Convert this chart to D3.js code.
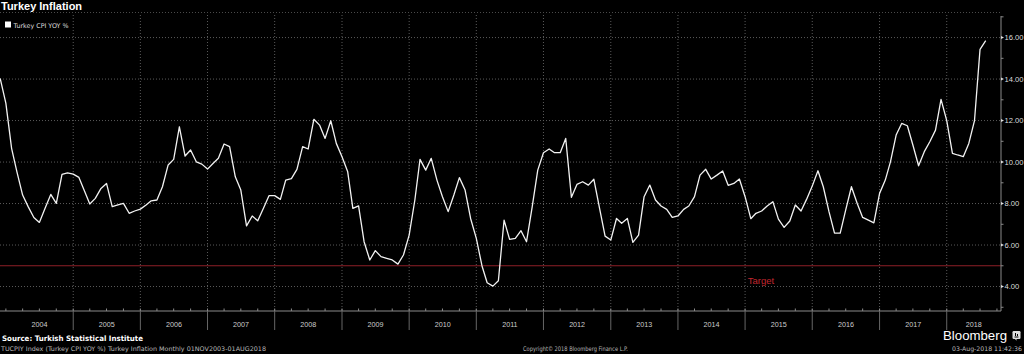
<!DOCTYPE html>
<html>
<head>
<meta charset="utf-8">
<script src="https://cdn.jsdelivr.net/npm/d3@7"></script>
<style>
  html, body { margin: 0; padding: 0; background: #000; }
  svg { display: block; }
</style>
</head>
<body>
<div id="chart"></div>
<script>
// monthly CPI YoY %, first value = Nov 2003 (each point drawn at the end of its month)
const firstMonth = [2003, 10];
const cpiYoy = [
  14.03, 12.83, 10.66, 9.53, 8.41, 7.85, 7.33, 7.09, 7.77, 8.44, 8.01, 9.41,
  9.48, 9.42, 9.26, 8.65, 7.98, 8.25, 8.73, 8.97, 7.85, 7.93, 8.01, 7.53,
  7.64, 7.73, 7.93, 8.13, 8.17, 8.81, 9.86, 10.13, 11.70, 10.29, 10.58, 10.01,
  9.90, 9.66, 9.94, 10.18, 10.87, 10.74, 9.29, 8.65, 6.92, 7.40, 7.17, 7.77,
  8.38, 8.38, 8.20, 9.13, 9.20, 9.65, 10.74, 10.63, 12.06, 11.78, 11.14, 11.99,
  10.90, 10.26, 9.53, 7.77, 7.89, 6.16, 5.28, 5.73, 5.44, 5.36, 5.28, 5.08,
  5.52, 6.48, 8.17, 10.13, 9.61, 10.18, 9.13, 8.33, 7.61, 8.41, 9.25, 8.65,
  7.28, 6.32, 4.99, 4.18, 4.02, 4.28, 7.20, 6.27, 6.32, 6.69, 6.16, 7.85,
  9.61, 10.45, 10.63, 10.45, 10.45, 11.14, 8.30, 8.92, 9.05, 8.89, 9.17, 7.77,
  6.43, 6.24, 7.28, 7.05, 7.28, 6.13, 6.48, 8.33, 8.89, 8.17, 7.88, 7.72,
  7.33, 7.40, 7.72, 7.88, 8.33, 9.37, 9.65, 9.18, 9.37, 9.57, 8.88, 8.97,
  9.18, 8.33, 7.27, 7.53, 7.64, 7.88, 8.09, 7.25, 6.85, 7.16, 7.93, 7.64,
  8.20, 8.84, 9.58, 8.81, 7.61, 6.57, 6.57, 7.69, 8.81, 8.01, 7.33, 7.20,
  7.07, 8.49, 9.13, 10.01, 11.30, 11.86, 11.75, 10.82, 9.82, 10.50, 10.98, 11.54,
  13.02, 12.00, 10.42, 10.34, 10.26, 10.90, 12.00, 15.43, 15.85
];
const targetValue = 5;
const yTicks = [4, 6, 8, 10, 12, 14, 16];
const yMinorTicks = [3, 5, 7, 9, 11, 13, 15, 17];
const years = d3.range(2004, 2019);

const width = 1024, height = 354;
const plot = { left: 0, right: 1001, top: 16, bottom: 311 };

const data = cpiYoy.map((v, i) => ({
  date: new Date(firstMonth[0], firstMonth[1] + i + 1, 1),
  value: v
}));

const x = d3.scaleTime()
  .domain([new Date(2003, 10, 30), new Date(2018, 9, 23)])
  .range([plot.left, plot.right]);
const y = d3.scaleLinear().domain([2.82, 17.04]).range([plot.bottom, plot.top]);

const svg = d3.select("#chart").append("svg")
  .attr("width", width)
  .attr("height", height)
  .style("background", "#000");

// title + legend
svg.append("text")
  .attr("x", 1).attr("y", 10)
  .attr("font-family", "Liberation Sans, Arial, sans-serif")
  .attr("font-weight", "bold")
  .attr("font-size", 11)
  .attr("fill", "#fff")
  .text("Turkey Inflation");

svg.append("line")
  .attr("x1", 0).attr("x2", plot.right)
  .attr("y1", 12.5).attr("y2", 12.5)
  .attr("stroke", "#4a4a4a")
  .attr("stroke-dasharray", "1,2");

svg.append("rect")
  .attr("x", 5).attr("y", 21.5).attr("width", 6).attr("height", 6)
  .attr("fill", "#fff");
svg.append("text")
  .attr("x", 13.5).attr("y", 27.5)
  .attr("font-family", "DejaVu Sans, Verdana, sans-serif")
  .attr("font-size", 6.5)
  .attr("fill", "#ddd")
  .attr("textLength", 55)
  .attr("lengthAdjust", "spacingAndGlyphs")
  .text("Turkey CPI YOY %");

// grid
const grid = svg.append("g").attr("stroke", "#5a5a5a").attr("stroke-dasharray", "1,2");
grid.selectAll(".hg").data(yTicks).join("line")
  .attr("x1", plot.left).attr("x2", plot.right)
  .attr("y1", d => y(d)).attr("y2", d => y(d));
grid.selectAll(".vg").data(years.slice(1)).join("line")
  .attr("x1", d => x(new Date(d, 0, 1))).attr("x2", d => x(new Date(d, 0, 1)))
  .attr("y1", plot.top - 1).attr("y2", plot.bottom);

// target line
svg.append("line")
  .attr("x1", plot.left).attr("x2", plot.right)
  .attr("y1", y(targetValue)).attr("y2", y(targetValue))
  .attr("stroke", "#8e1f27")
  .attr("stroke-width", 1.2);
svg.append("text")
  .attr("x", 761).attr("y", 283.5)
  .attr("text-anchor", "middle")
  .attr("font-family", "Liberation Sans, Arial, sans-serif")
  .attr("font-size", 9.5)
  .attr("fill", "#c2262e")
  .text("Target");

// series
svg.append("path")
  .datum(data)
  .attr("fill", "none")
  .attr("stroke", "#f2f2f2")
  .attr("stroke-width", 1.3)
  .attr("stroke-linejoin", "round")
  .attr("d", d3.line().x(d => x(d.date)).y(d => y(d.value)));

// x axis
const axisColor = "#8a8a8a";
svg.append("line")
  .attr("x1", plot.left).attr("x2", plot.right)
  .attr("y1", plot.bottom).attr("y2", plot.bottom)
  .attr("stroke", axisColor);
const quarters = d3.timeMonth.every(3).range(x.domain()[0], x.domain()[1]);
svg.append("g").selectAll("line").data(quarters).join("line")
  .attr("x1", d => x(d)).attr("x2", d => x(d))
  .attr("y1", plot.bottom - 2.5).attr("y2", plot.bottom)
  .attr("stroke", axisColor);
svg.append("g").selectAll("line").data(years.slice(1)).join("line")
  .attr("x1", d => x(new Date(d, 0, 1))).attr("x2", d => x(new Date(d, 0, 1)))
  .attr("y1", plot.bottom).attr("y2", 330)
  .attr("stroke", "#666");
svg.append("g").selectAll("text").data(years).join("text")
  .attr("x", d => {
    const a = Math.max(plot.left, x(new Date(d, 0, 1)));
    const b = Math.min(plot.right, x(new Date(d + 1, 0, 1)));
    return (a + b) / 2;
  })
  .attr("y", 326.5)
  .attr("text-anchor", "middle")
  .attr("font-family", "Liberation Sans, Arial, sans-serif")
  .attr("font-size", 7.2)
  .attr("fill", "#ccc")
  .text(d => d);

// y axis (right)
svg.append("line")
  .attr("x1", plot.right).attr("x2", plot.right)
  .attr("y1", plot.top).attr("y2", plot.bottom)
  .attr("stroke", axisColor);
svg.append("g").selectAll("line").data(yMinorTicks.filter(d => y(d) >= plot.top)).join("line")
  .attr("x1", plot.right).attr("x2", plot.right + 2.5)
  .attr("y1", d => y(d)).attr("y2", d => y(d))
  .attr("stroke", axisColor);
svg.append("g").selectAll("path").data(yTicks).join("path")
  .attr("d", d => `M${plot.right},${y(d) - 1.5}L${plot.right + 3},${y(d)}L${plot.right},${y(d) + 1.5}Z`)
  .attr("fill", "#ddd");
svg.append("g").selectAll("text").data(yTicks).join("text")
  .attr("x", 1004.5)
  .attr("y", d => y(d))
  .attr("dy", "0.35em")
  .attr("font-family", "Liberation Sans, Arial, sans-serif")
  .attr("font-size", 7.6)
  .attr("fill", "#ddd")
  .text(d => d3.format(".2f")(d));

// footer
svg.append("text")
  .attr("x", 2).attr("y", 340.5)
  .attr("font-family", "DejaVu Sans, Verdana, sans-serif")
  .attr("font-weight", "bold")
  .attr("font-size", 7.5)
  .attr("fill", "#fff")
  .attr("textLength", 141)
  .attr("lengthAdjust", "spacingAndGlyphs")
  .text("Source: Turkish Statistical Institute");

const footer = svg.append("g")
  .attr("font-family", "DejaVu Sans, Verdana, sans-serif")
  .attr("font-size", 6.3)
  .attr("fill", "#bbb");
footer.append("text")
  .attr("x", 1).attr("y", 351)
  .attr("textLength", 265)
  .attr("lengthAdjust", "spacingAndGlyphs")
  .text("TUCPIY Index (Turkey CPI YOY %) Turkey Inflation  Monthly 01NOV2003-01AUG2018");
footer.append("text")
  .attr("x", 523).attr("y", 351)
  .attr("textLength", 105)
  .attr("lengthAdjust", "spacingAndGlyphs")
  .text("Copyright\u00a9 2018 Bloomberg Finance L.P.");
footer.append("text")
  .attr("x", 952).attr("y", 351)
  .attr("textLength", 70)
  .attr("lengthAdjust", "spacingAndGlyphs")
  .text("03-Aug-2018 11:42:36");

// Bloomberg mark
svg.append("text")
  .attr("x", 943).attr("y", 340)
  .attr("font-family", "Liberation Sans, Arial, sans-serif")
  .attr("font-size", 13)
  .attr("fill", "#fff")
  .attr("textLength", 64)
  .attr("lengthAdjust", "spacingAndGlyphs")
  .text("Bloomberg");
const logo = svg.append("g").attr("transform", "translate(1012.5,331)");
logo.append("rect").attr("width", 8).attr("height", 8).attr("rx", 1.2).attr("fill", "#ddd");
logo.append("path").attr("d", "M3,5v-3M5,5v-2M2,6h4").attr("stroke", "#000").attr("stroke-width", 1);
logo.append("path").attr("d", "M2.5,8l1.5,1.8l0,-1.8z").attr("fill", "#ddd");
</script>
</body>
</html>
